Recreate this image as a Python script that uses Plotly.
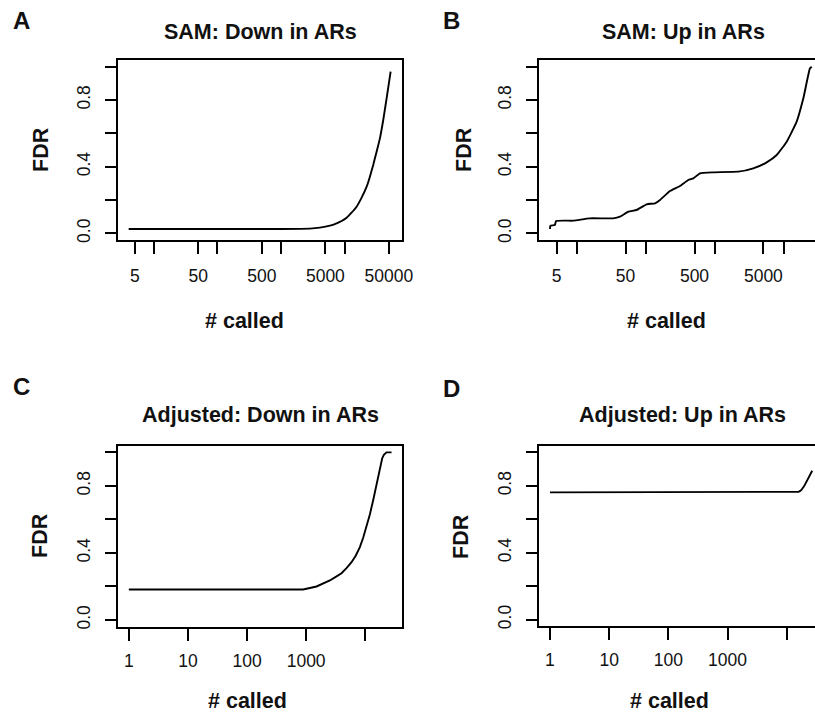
import plotly.graph_objects as go

# ---------------- data ----------------
a_called = [4, 100, 1000, 2850, 4090, 5890, 7500, 9000, 10800, 12900, 15500, 18600,
            22300, 25100, 28300, 32000, 36100, 40700, 46000, 53200]
a_fdr = [0.026, 0.026, 0.026, 0.028, 0.034, 0.046, 0.06, 0.074, 0.094, 0.124, 0.16, 0.214,
         0.28, 0.34, 0.41, 0.49, 0.57, 0.68, 0.81, 0.97]

b_called = [4, 4.05, 4.7, 4.9, 8.7, 15, 33, 41.5, 55, 72, 101, 134, 158, 220, 308, 407,
            481, 601, 938, 2163, 3565, 5580, 7800, 10900, 15200, 19000, 23700, 25100]
b_fdr = [0.026, 0.046, 0.05, 0.074, 0.076, 0.09, 0.09, 0.10, 0.13, 0.14, 0.174, 0.18,
         0.20, 0.254, 0.284, 0.32, 0.33, 0.36, 0.366, 0.37, 0.39, 0.426, 0.47, 0.55,
         0.67, 0.81, 0.99, 1.0]

c_called = [1, 100, 890, 1500, 1940, 2520, 3270, 3970, 4820, 5860, 6930, 8110, 9230,
            10500, 11970, 13620, 15530, 17660, 19320, 20650, 21800, 22900, 27900]
c_fdr = [0.182, 0.182, 0.182, 0.20, 0.216, 0.236, 0.26, 0.279, 0.309, 0.345, 0.385, 0.435,
         0.491, 0.555, 0.63, 0.715, 0.805, 0.894, 0.964, 0.985, 0.997, 1.0, 1.0]

d_called = [1, 100, 1000, 14700, 15800, 16900, 17800, 19800, 21700, 24000, 26900]
d_fdr = [0.761, 0.761, 0.761, 0.761, 0.764, 0.77, 0.777, 0.80, 0.826, 0.855, 0.89]

panel_titles = ["SAM: Down in ARs", "SAM: Up in ARs",
                "Adjusted: Down in ARs", "Adjusted: Up in ARs"]
panel_letters = ["A", "B", "C", "D"]
x_label = "# called"
y_label = "FDR"

y_tickvals = [0, 0.2, 0.4, 0.6, 0.8, 1.0]
y_ticktext = ["0.0", "", "0.4", "", "0.8", ""]

sam_tickvals = [5, 10, 50, 100, 500, 1000, 5000, 10000, 50000]
sam_ticktext = ["5", "", "50", "", "500", "", "5000", "", "50000"]
adj_tickvals = [1, 10, 100, 1000, 10000]
adj_ticktext = ["1", "10", "100", "1000", ""]

# ---------------- layout geometry ----------------
W, H = 815, 713
FONT = "Liberation Sans, Arial, Helvetica, sans-serif"
INK = "#111111"


def fx(px):
    return px / W


def fy(py):
    return 1 - py / H


panels = [
    dict(xd=(118, 402), yd=(60, 240), xr=(0.434, 4.905), x=a_called, y=a_fdr,
         tv=sam_tickvals, tt=sam_ticktext, right=True, shape="spline", xs=7),
    dict(xd=(539, 815), yd=(60, 240), xr=(0.442, 4.448), x=b_called, y=b_fdr,
         tv=sam_tickvals, tt=sam_ticktext, right=False, shape="spline", xs=7),
    dict(xd=(118.3, 402.3), yd=(445.7, 626.7), xr=(-0.178, 4.627), x=c_called, y=c_fdr,
         tv=adj_tickvals, tt=adj_ticktext, right=True, shape="linear", xs=5),
    dict(xd=(539.3, 815), yd=(445.7, 626.3), xr=(-0.18, 4.477), x=d_called, y=d_fdr,
         tv=adj_tickvals, tt=adj_ticktext, right=False, shape="linear", xs=5),
]

fig = go.Figure()
layout = dict(
    width=W, height=H, autosize=False,
    margin=dict(l=0, r=0, t=0, b=0, pad=0),
    paper_bgcolor="white", plot_bgcolor="white",
    showlegend=False,
    font=dict(family=FONT, color=INK),
)

annotations = []
for i, p in enumerate(panels):
    n = "" if i == 0 else str(i + 1)
    line = dict(color="black", width=1.9, shape=p["shape"])
    if p["shape"] == "spline":
        line["smoothing"] = 0.4
    fig.add_trace(go.Scatter(
        x=p["x"], y=p["y"], mode="lines", line=line,
        xaxis="x" + n, yaxis="y" + n, hoverinfo="skip",
    ))
    layout["xaxis" + n] = dict(
        domain=[fx(p["xd"][0]), fx(p["xd"][1])],
        anchor="y" + n, type="log", range=list(p["xr"]), automargin=False,
        showgrid=False, zeroline=False,
        showline=True, linecolor="black", linewidth=1.8, mirror=True,
        ticks="outside", ticklen=12, tickwidth=1.6, tickcolor="black",
        tickvals=p["tv"], ticktext=p["tt"], tickangle=0,
        tickfont=dict(family=FONT, size=17.5, color=INK),
        ticklabelstandoff=p["xs"],
    )
    layout["yaxis" + n] = dict(
        domain=[fy(p["yd"][1]), fy(p["yd"][0])],
        anchor="x" + n, range=[-0.04, 1.04], automargin=False,
        showgrid=False, zeroline=False,
        showline=True, linecolor="black", linewidth=1.8, mirror=p["right"],
        ticks="outside", ticklen=11, tickwidth=1.6, tickcolor="black",
        tickvals=y_tickvals, ticktext=y_ticktext, tickangle=-90,
        tickfont=dict(family=FONT, size=17.5, color=INK),
        ticklabelstandoff=8,
    )

title_pos = [(260, 32), (683, 32), (260.5, 415), (682, 415)]
xlab_pos = [(244.5, 321), (666, 321), (247.7, 700.5), (669, 700.5)]
ylab_pos = [(41, 150), (464, 150), (40, 536), (461, 536)]
letter_pos = [(21, 20), (451, 20), (21, 386), (451, 388)]

for i in range(4):
    annotations.append(dict(
        text="<b>" + panel_titles[i] + "</b>", x=fx(title_pos[i][0]), y=fy(title_pos[i][1]),
        xref="paper", yref="paper", xanchor="center", yanchor="middle", showarrow=False,
        font=dict(family=FONT, size=21.5, color=INK)))
    annotations.append(dict(
        text="<b>" + x_label + "</b>", x=fx(xlab_pos[i][0]), y=fy(xlab_pos[i][1]),
        xref="paper", yref="paper", xanchor="center", yanchor="middle", showarrow=False,
        font=dict(family=FONT, size=21.5, color=INK)))
    annotations.append(dict(
        text="<b>" + y_label + "</b>", x=fx(ylab_pos[i][0]), y=fy(ylab_pos[i][1]),
        xref="paper", yref="paper", xanchor="center", yanchor="middle", showarrow=False,
        textangle=-90, font=dict(family=FONT, size=21.5, color=INK)))
    annotations.append(dict(
        text="<b>" + panel_letters[i] + "</b>", x=fx(letter_pos[i][0]), y=fy(letter_pos[i][1]),
        xref="paper", yref="paper", xanchor="center", yanchor="middle", showarrow=False,
        font=dict(family=FONT, size=24, color=INK)))

layout["annotations"] = annotations
fig.update_layout(**layout)
fig.write_html("out.html")
